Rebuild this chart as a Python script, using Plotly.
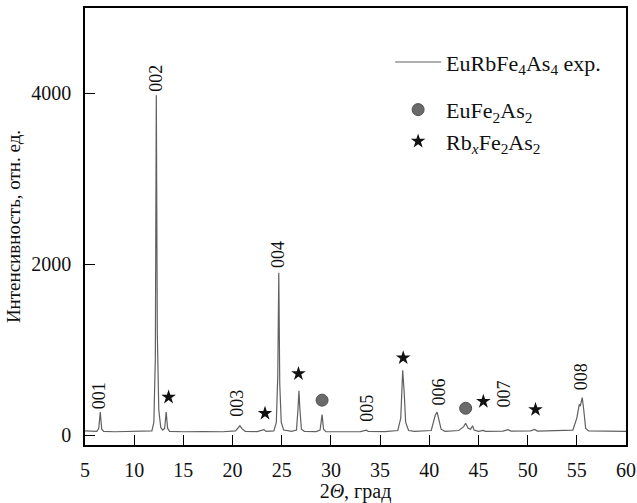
import plotly.graph_objects as go

# ---- data ----
two_theta = [5.0, 5.5, 6.2, 6.4, 6.55, 6.7, 6.9, 8.0, 9.0, 10.0, 11.0, 11.8, 12.0, 12.15, 12.25, 12.35,
             12.5, 12.7, 12.9, 13.1, 13.25, 13.4, 13.6, 15.0, 17.0, 19.0, 20.3, 20.6, 20.75, 21.0,
             21.3, 22.5, 23.0, 23.2, 23.4, 24.2, 24.45, 24.6, 24.7, 24.8, 24.95, 25.2, 26.0, 26.5,
             26.65, 26.75, 26.85, 27.0, 27.3, 28.5, 28.9, 29.1, 29.25, 29.5, 31.0, 33.0, 33.6, 33.8,
             35.5, 36.8, 37.1, 37.3, 37.45, 37.6, 37.9, 38.5, 40.2, 40.6, 40.8, 40.95, 41.2, 41.6,
             43.0, 43.5, 43.7, 43.95, 44.2, 44.4, 44.55, 45.0, 45.5, 45.7, 47.5, 48.0, 48.3, 50.3,
             50.7, 51.0, 54.6, 55.0, 55.25, 55.35, 55.55, 55.7, 55.9, 56.2, 58.0, 60.0]
intensity = [50, 45, 45, 80, 270, 70, 45, 40, 42, 38, 40, 50, 150, 900, 3980, 1200,
             300, 90, 60, 80, 270, 80, 45, 40, 42, 40, 50, 100, 110, 70,
             45, 42, 60, 65, 45, 50, 150, 700, 1900, 600, 150, 60, 45, 60,
             300, 520, 300, 70, 45, 42, 60, 240, 70, 42, 40, 42, 58, 45,
             42, 55, 200, 760, 500, 150, 55, 45, 55, 230, 270, 200, 70, 45,
             55, 100, 140, 80, 70, 110, 60, 45, 55, 45, 48, 65, 48, 50,
             68, 48, 60, 200, 360, 340, 440, 300, 80, 50, 45, 45]

# phase markers
eufe_x = [29.1, 43.7]
eufe_y = [410, 315]
rbfe_x = [13.5, 23.3, 26.7, 37.35, 45.5, 50.8]
rbfe_y = [445, 255, 720, 905, 395, 300]

# Miller index labels
hkl_labels = ["001", "002", "003", "004", "005", "006", "007", "008"]
hkl_x = [6.5, 12.25, 20.5, 24.7, 33.7, 41.0, 47.6, 55.4]
hkl_y = [465, 4175, 372, 2117, 314, 500, 477, 686]

x_ticks = [5, 10, 15, 20, 25, 30, 35, 40, 45, 50, 55, 60]
y_ticks = [0, 2000, 4000]

FONT = "Liberation Serif"

fig = go.Figure()
fig.add_trace(go.Scatter(
    x=two_theta, y=intensity, mode="lines",
    line=dict(color="#606060", width=1.2),
    name="EuRbFe<sub>4</sub>As<sub>4</sub> exp.", legendgroup="a"))
fig.add_trace(go.Scatter(
    x=eufe_x, y=eufe_y, mode="markers",
    marker=dict(symbol="circle", size=12, color="#6a6a6a", line=dict(color="#505050", width=1)),
    name="EuFe<sub>2</sub>As<sub>2</sub>", legendgroup="b"))
fig.add_trace(go.Scatter(
    x=rbfe_x, y=rbfe_y, mode="markers",
    marker=dict(symbol="star", size=11, color="#111111", line=dict(width=0)),
    name="Rb<sub><i>x</i></sub>Fe<sub>2</sub>As<sub>2</sub>", legendgroup="b"))

for lab, xx, yy in zip(hkl_labels, hkl_x, hkl_y):
    fig.add_annotation(x=xx, y=yy, text=lab, textangle=-90, showarrow=False,
                       font=dict(family=FONT, size=18, color="#111111"),
                       xref="x", yref="y")

axis_common = dict(showline=True, linecolor="black", linewidth=1.5, mirror=True,
                   ticks="inside", ticklen=10, tickwidth=1.2, tickcolor="black",
                   showgrid=False, zeroline=False,
                   tickfont=dict(family=FONT, size=20, color="#111111"))

fig.update_xaxes(range=[5, 60], tickvals=x_ticks, ticktext=[str(v) for v in x_ticks],
                 ticklabelstandoff=6,
                 title=dict(text="2<i>Θ</i>, град", font=dict(family=FONT, size=20, color="#111111"),
                            standoff=4),
                 **axis_common)
fig.update_yaxes(range=[-115, 5000], tickvals=y_ticks, ticktext=[str(v) for v in y_ticks],
                 ticklabelstandoff=8,
                 title=dict(text="Интенсивность, отн. ед.", font=dict(family=FONT, size=19, color="#111111"),
                            standoff=6),
                 **axis_common)

fig.update_layout(
    width=637, height=503,
    margin=dict(l=85, r=11, t=8, b=58, autoexpand=False),
    paper_bgcolor="white", plot_bgcolor="white",
    showlegend=True,
    legend=dict(x=0.564, y=0.924, xanchor="left", yanchor="top",
                bgcolor="rgba(0,0,0,0)", borderwidth=0,
                font=dict(family=FONT, size=22, color="#111111"),
                tracegroupgap=16, itemwidth=46),
    font=dict(family=FONT, color="#111111"),
)

fig.write_html("out.html", config={"displayModeBar": False},
               post_script="document.body.style.margin='0';")
